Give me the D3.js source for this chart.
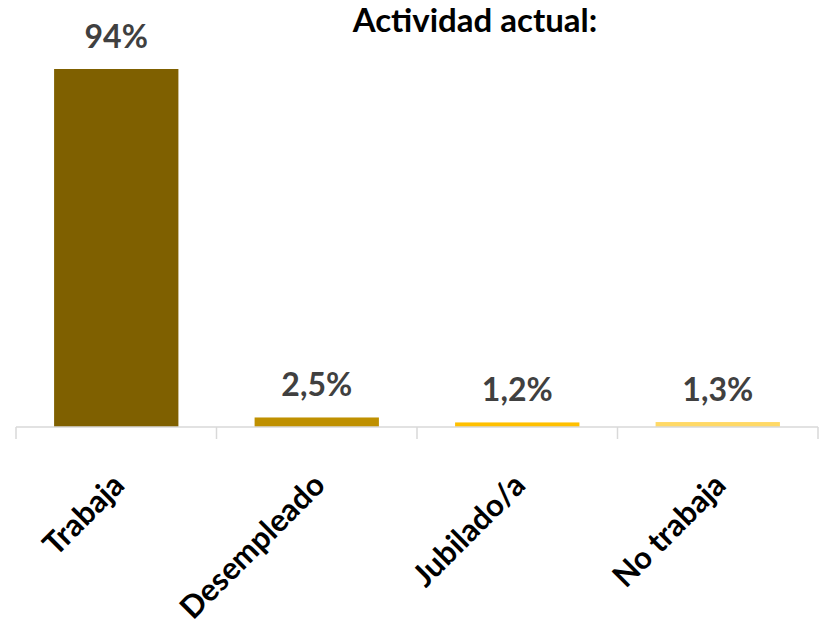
<!DOCTYPE html>
<html>
<head>
<meta charset="utf-8">
<script src="https://cdn.jsdelivr.net/npm/d3@7"></script>
<style>
  body { margin: 0; background: #fff; }
  text { font-family: Lato, "Open Sans", sans-serif; }
</style>
</head>
<body>
<div id="chart"></div>
<script>
// chart data
const categories = ["Trabaja", "Desempleado", "Jubilado/a", "No trabaja"];
const values = [94, 2.5, 1.2, 1.3];
const valueLabels = ["94%", "2,5%", "1,2%", "1,3%"];
const colors = ["#7f6000", "#bf9000", "#ffc000", "#ffd966"];
const title = "Actividad actual:";

const W = 827, H = 634;
const margin = {top: 69, right: 9, bottom: 207, left: 16};
const width = W - margin.left - margin.right;
const height = H - margin.top - margin.bottom;

const svg = d3.select("#chart").append("svg")
  .attr("width", W)
  .attr("height", H);

const g = svg.append("g")
  .attr("transform", `translate(${margin.left}, ${margin.top})`);

const x = d3.scaleBand()
  .domain(categories)
  .range([0, width])
  .paddingInner(0.38)
  .paddingOuter(0.19);

const y = d3.scaleLinear()
  .domain([0, 94])
  .range([height, 0]);

// title
svg.append("text")
  .attr("x", 475)
  .attr("y", 32)
  .attr("text-anchor", "middle")
  .attr("font-size", 33)
  .attr("font-weight", "bold")
  .attr("fill", "#000")
  .text(title);

// bars
g.selectAll("rect.bar")
  .data(categories)
  .enter()
  .append("rect")
  .attr("class", "bar")
  .attr("x", d => x(d))
  .attr("width", x.bandwidth())
  .attr("y", (d, i) => y(values[i]))
  .attr("height", (d, i) => height - y(values[i]))
  .attr("fill", (d, i) => colors[i]);

// value labels
g.selectAll("text.val")
  .data(categories)
  .enter()
  .append("text")
  .attr("class", "val")
  .attr("x", d => x(d) + x.bandwidth() / 2)
  .attr("y", (d, i) => y(values[i]) - 21)
  .attr("text-anchor", "middle")
  .attr("font-size", 32)
  .attr("font-weight", "bold")
  .attr("fill", "#404040")
  .text((d, i) => valueLabels[i]);

// x axis: line + tick marks at band boundaries
const axis = g.append("g").attr("class", "x-axis")
  .attr("transform", `translate(0, ${height})`);

axis.append("line")
  .attr("x1", 0).attr("x2", width)
  .attr("y1", 0).attr("y2", 0)
  .attr("stroke", "#d9d9d9")
  .attr("stroke-width", 1.5);

const bounds = d3.range(categories.length + 1).map(i => i * width / categories.length);
axis.selectAll("line.tick")
  .data(bounds)
  .enter()
  .append("line")
  .attr("class", "tick")
  .attr("x1", d => d).attr("x2", d => d)
  .attr("y1", 0).attr("y2", 12)
  .attr("stroke", "#d9d9d9")
  .attr("stroke-width", 1.5);

// category labels, rotated
axis.selectAll("text.cat")
  .data(categories)
  .enter()
  .append("text")
  .attr("class", "cat")
  .attr("transform", d => `translate(${x(d) + x.bandwidth() / 2 + 10}, 60) rotate(-45)`)
  .attr("text-anchor", "end")
  .attr("font-size", 31)
  .attr("font-weight", "bold")
  .attr("fill", "#000")
  .text(d => d);
</script>
</body>
</html>
